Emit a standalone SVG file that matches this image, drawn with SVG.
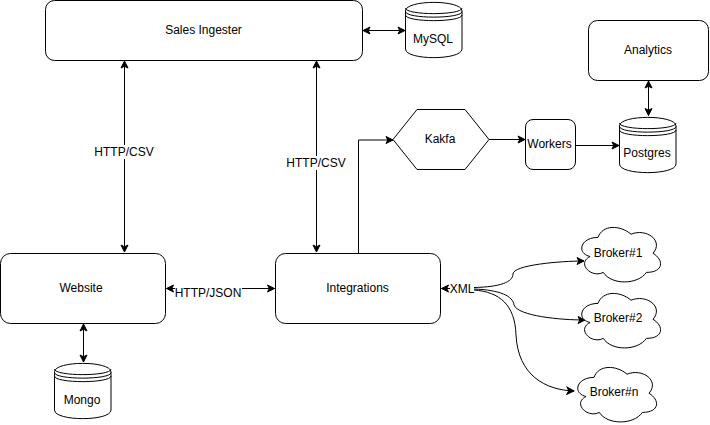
<svg xmlns="http://www.w3.org/2000/svg" xmlns:xlink="http://www.w3.org/1999/xlink" width="710" height="425" viewBox="0 0 710 425">
<style>
text{font-family:"Liberation Sans",Arial,sans-serif;font-size:12px;fill:#000;text-anchor:middle}
.s{fill:#fff;stroke:#000;stroke-width:1}
.c{fill:none;stroke:#000;stroke-width:1}
.a{marker-end:url(#h)}
.b{marker-start:url(#t);marker-end:url(#h)}
.l{fill:#fff;stroke:none}
</style>
<defs>
<marker id="h" markerUnits="userSpaceOnUse" markerWidth="9" markerHeight="9" refX="8" refY="4.5" orient="auto"><path d="M8 4.5L1 1L2.75 4.5L1 8Z" fill="#000" stroke="#000"/></marker>
<marker id="t" markerUnits="userSpaceOnUse" markerWidth="9" markerHeight="9" refX="1" refY="4.5" orient="auto"><path d="M1 4.5L8 1L6.25 4.5L8 8Z" fill="#000" stroke="#000"/></marker>
<g id="cyl"><path class="s" d="M0 9.5C0 -2 56.5 -2 56.5 9.5V47.5C56.5 59 0 59 0 47.5Z"/><path class="c" d="M0 9.5C0 17 56.5 17 56.5 9.5M0 13C0 20.5 56.5 20.5 56.5 13M0 16.500C0 24 56.5 24 56.5 16.500" transform="translate(0 -3)"/></g>
<path id="cloud" class="s" d="M22 15.9C4.4 15.9 0 31.8 14.1 35C0 42 15.8 57.2 27.3 50.9C35.2 63.6 61.6 63.6 70.4 50.9C88 50.9 88 38.2 77 31.800C88 19.1 70.4 6.4 55 12.7C44 3.2 26.4 3.2 22 15.9Z"/>
</defs>
<g id="connectors">
<path class="c b" d="M124.500 61V252"/>
<path class="c b" d="M316.500 61V252"/>
<path class="c b" d="M363 30.500H405"/>
<path class="c b" d="M83.500 324V362"/>
<path class="c b" d="M166.500 288.500H274.500"/>
<path class="c a" d="M358.500 253V140H393"/>
<path class="c a" d="M489 139.500H525"/>
<path class="c a" d="M575 145.500H619"/>
<path class="c b" d="M648.500 81V115.500"/>
<path class="c a" d="M474 288.500H441.500"/>
<path class="c a" d="M474 287.500C500 287 513 282 513 274C513 265 560 261 584 261"/>
<path class="c a" d="M474 289C500 290 513 296 514 305C518 316 560 320 585 320"/>
<path class="c a" d="M474 290C500 292 515 305 516 335C518 375 545 390 574 391"/>
</g>
<g id="connector-labels">
<rect class="l" x="93" y="145" width="62" height="14"/><text x="124" y="156">HTTP/CSV</text>
<rect class="l" x="285" y="156" width="62" height="14"/><text x="316" y="167">HTTP/CSV</text>
<rect class="l" x="175" y="286" width="67" height="14"/><text x="208" y="297">HTTP/JSON</text>
<rect class="l" x="450" y="282" width="24" height="14"/><text x="462" y="293">XML</text>
</g>
<g id="sales-ingester"><rect class="s" x="45.500" y="0.500" width="317" height="60" rx="9"/><text x="203.500" y="34">Sales Ingester</text></g>
<g id="mysql"><use href="#cyl" x="405.500" y="1.500"/><text x="433" y="43">MySQL</text></g>
<g id="website"><rect class="s" x="0.500" y="253.500" width="165" height="70" rx="10"/><text x="81" y="292">Website</text></g>
<g id="integrations"><rect class="s" x="275.500" y="253.500" width="165" height="70" rx="10"/><text x="357.500" y="292">Integrations</text></g>
<g id="mongo"><use href="#cyl" x="54.500" y="362.500"/><text x="82" y="404">Mongo</text></g>
<g id="kafka"><path class="s" d="M393 139.500L417 109.500H465L489 139.500L465 169.500H417Z"/><text x="440" y="143">Kakfa</text></g>
<g id="workers"><rect class="s" x="525.500" y="119.500" width="50" height="50" rx="7.500"/><text x="549.500" y="148">Workers</text></g>
<g id="postgres"><use href="#cyl" x="619.500" y="116.500"/><text x="647" y="157">Postgres</text></g>
<g id="analytics"><rect class="s" x="588.500" y="20.500" width="120" height="60" rx="9"/><text x="648" y="54">Analytics</text></g>
<g id="broker-1"><use href="#cloud" x="576" y="221.500"/><text x="618" y="257">Broker#1</text></g>
<g id="broker-2"><use href="#cloud" x="576" y="287.500"/><text x="618" y="322">Broker#2</text></g>
<g id="broker-n"><use href="#cloud" x="572" y="361.500"/><text x="614" y="396">Broker#n</text></g>
</svg>
